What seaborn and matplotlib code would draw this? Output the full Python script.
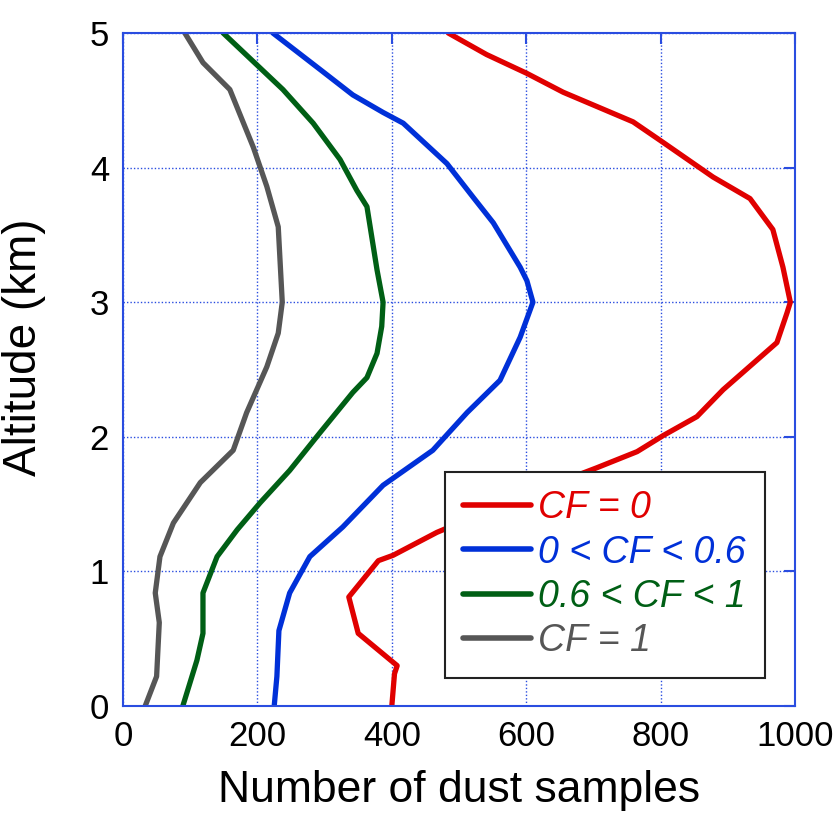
import matplotlib
matplotlib.use("Agg")
import matplotlib.pyplot as plt
import seaborn as sns
import pandas as pd

labels = ["CF = 0", "0 < CF < 0.6", "0.6 < CF < 1", "CF = 1"]
colors = ["#e00000", "#0030d8", "#005f15", "#565656"]

alt_cf0 = [0, 0.24, 0.30, 0.54, 0.81, 1.08, 1.12, 1.29, 1.55, 1.77, 1.89, 2.01, 2.15, 2.35,
           2.70, 2.92, 3.0, 3.26, 3.54, 3.77, 3.93, 4.2, 4.34, 4.56, 4.70, 4.84, 5.0]
n_cf0 = [400, 404, 408, 350, 336, 380, 402, 467, 590, 705, 765, 804, 854, 893,
         973, 988, 993, 982, 967, 933, 878, 800, 759, 655, 601, 541, 484]

alt_cf06 = [0, 0.22, 0.56, 0.84, 1.11, 1.33, 1.64, 1.90, 2.18, 2.42, 2.74, 3.0, 3.16, 3.26,
            3.59, 3.78, 4.03, 4.33, 4.41, 4.54, 4.73, 5.0]
n_cf06 = [225, 229, 232, 248, 278, 327, 387, 461, 512, 561, 591, 610, 601, 591,
          551, 521, 482, 417, 387, 342, 293, 223]

alt_cf1x = [0, 0.34, 0.54, 0.84, 1.11, 1.31, 1.51, 1.75, 2.03, 2.33, 2.44, 2.62, 2.82, 3.0,
            3.24, 3.71, 3.83, 4.06, 4.33, 4.58, 5.0]
n_cf1x = [89, 110, 119, 119, 140, 170, 204, 248, 293, 342, 363, 378, 385, 387,
          378, 363, 348, 323, 283, 238, 149]

alt_cf1 = [0, 0.22, 0.62, 0.84, 1.11, 1.36, 1.66, 1.90, 2.18, 2.52, 2.77, 3.0,
           3.56, 3.86, 4.15, 4.58, 4.78, 5.0]
n_cf1 = [33, 50, 54, 48, 55, 75, 115, 164, 184, 214, 231, 237,
         231, 214, 194, 159, 119, 92]

xticks = [0, 200, 400, 600, 800, 1000]
yticks = [0, 1, 2, 3, 4, 5]

frames = []
for lab, a, n in zip(labels, [alt_cf0, alt_cf06, alt_cf1x, alt_cf1],
                     [n_cf0, n_cf06, n_cf1x, n_cf1]):
    frames.append(pd.DataFrame({"alt": a, "n": n, "cat": lab}))
df = pd.concat(frames, ignore_index=True)

sns.set_theme(style="white")
plt.rcParams["font.family"] = ["Liberation Sans", "DejaVu Sans"]

fig = plt.figure(figsize=(8.39, 8.15), dpi=100)
ax = fig.add_axes([0.1466, 0.1337, 0.8010, 0.8258])

sns.lineplot(data=df, x="n", y="alt", hue="cat", hue_order=labels,
             palette=colors, sort=False, estimator=None, orient="y",
             linewidth=3.8, ax=ax)

spine_c = "#2a4de0"
ax.set_xlim(0, 1000)
ax.set_ylim(0, 5)
ax.set_xticks(xticks)
ax.set_yticks(yticks)
ax.set_xticklabels([str(v) for v in xticks])
ax.set_yticklabels([str(v) for v in yticks])
ax.grid(True, color=spine_c, linestyle=(0, (1, 1.5)), linewidth=1.0)
ax.set_axisbelow(True)
for s in ax.spines.values():
    s.set_color(spine_c)
    s.set_linewidth(1.5)
ax.tick_params(axis="both", direction="in", length=8, width=1.5, color=spine_c,
               labelsize=25, labelcolor="black", top=True, right=True, pad=10)

ax.set_xlabel("Number of dust samples", fontsize=32, color="black", labelpad=12)
ax.set_ylabel("Altitude (km)", fontsize=33, color="black")
ax.yaxis.set_label_coords(-0.115, 0.533)

leg = ax.legend(loc="lower right", bbox_to_anchor=(0.955, 0.042), fontsize=27,
                frameon=True, fancybox=False, edgecolor="#222222", framealpha=1,
                handlelength=1.8, handletextpad=0.2, borderpad=0.5,
                labelspacing=0.22, borderaxespad=0)
leg.get_frame().set_linewidth(1.5)
for t, c in zip(leg.get_texts(), colors):
    t.set_color(c)
    t.set_fontstyle("italic")
for h in leg.get_lines():
    h.set_linewidth(4)

fig.savefig("out.png", dpi=100)
